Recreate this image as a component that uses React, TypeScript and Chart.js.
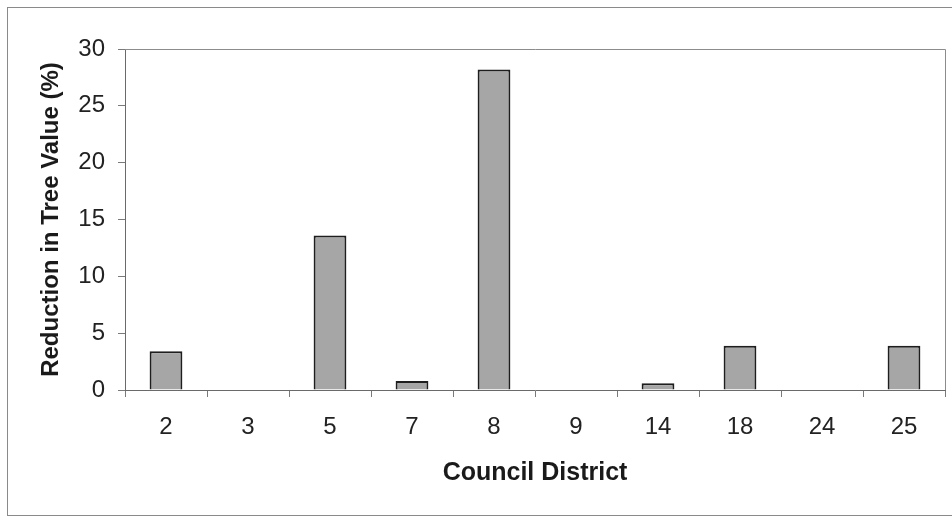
import React, { useEffect, useRef } from "react";
import { Chart, registerables } from "chart.js";

Chart.register(...registerables);

const districts = ["2", "3", "5", "7", "8", "9", "14", "18", "24", "25"];
const reductionPct = [3.4, 0, 13.6, 0.8, 28.2, 0, 0.6, 3.9, 0, 3.9];
const yTicks = { min: 0, max: 30, step: 5 };
const xTitle = "Council District";
const yTitle = "Reduction in Tree Value (%)";

const FONT = "'Liberation Sans', Arial, Helvetica, sans-serif";

const framePlugin = {
  id: "frame",
  beforeDraw(chart: any) {
    const { ctx, width, height } = chart;
    ctx.save();
    ctx.fillStyle = "#ffffff";
    ctx.fillRect(0, 0, width, height);
    ctx.strokeStyle = "#8a8a8a";
    ctx.lineWidth = 1;
    ctx.strokeRect(7.5, 7.5, width + 10, 508);
    ctx.restore();
  },
  afterDatasetsDraw(chart: any) {
    const { ctx, chartArea } = chart;
    ctx.save();
    ctx.strokeStyle = "#8c8c8c";
    ctx.lineWidth = 1;
    ctx.beginPath();
    ctx.moveTo(chartArea.left, Math.round(chartArea.top) + 0.5);
    ctx.lineTo(Math.round(chartArea.right) + 0.5, Math.round(chartArea.top) + 0.5);
    ctx.lineTo(Math.round(chartArea.right) + 0.5, chartArea.bottom);
    ctx.stroke();
    ctx.restore();
  },
};

export default function App() {
  const ref = useRef<HTMLCanvasElement | null>(null);
  useEffect(() => {
    if (!ref.current) return;
    const chart = new Chart(ref.current, {
      type: "bar",
      data: {
        labels: districts,
        datasets: [
          {
            data: reductionPct,
            backgroundColor: "#a6a6a6",
            borderColor: "#1e1e1e",
            borderWidth: 2,
            borderSkipped: "bottom",
            barPercentage: 0.4,
            categoryPercentage: 1,
          },
        ],
      },
      plugins: [framePlugin],
      options: {
        animation: false,
        responsive: false,
        devicePixelRatio: 1,
        events: [],
        layout: { padding: { left: 0, right: 7, top: 49, bottom: 0 } },
        plugins: {
          legend: { display: false },
          tooltip: { enabled: false },
          title: { display: false },
        },
        scales: {
          x: {
            afterFit: (s: any) => {
              s.height = 128;
            },
            grid: {
              offset: true,
              drawOnChartArea: false,
              drawTicks: true,
              tickLength: 7,
              tickColor: "#7a7a7a",
            },
            border: { display: true, color: "#6a6a6a", width: 1 },
            ticks: {
              padding: 16,
              color: "#222222",
              font: { family: FONT, size: 24, lineHeight: 1.2 },
              maxRotation: 0,
              autoSkip: false,
            },
            title: {
              display: true,
              text: xTitle,
              color: "#1a1a1a",
              font: { family: FONT, size: 25, weight: "bold", lineHeight: 1.2 },
              padding: { top: 0, bottom: 30 },
            },
          },
          y: {
            min: yTicks.min,
            max: yTicks.max,
            afterFit: (s: any) => {
              s.width = 125;
            },
            grid: {
              drawOnChartArea: false,
              drawTicks: true,
              tickLength: 7,
              tickColor: "#7a7a7a",
            },
            border: { display: true, color: "#6a6a6a", width: 1 },
            ticks: {
              stepSize: yTicks.step,
              padding: 13,
              color: "#222222",
              font: { family: FONT, size: 24, lineHeight: 1.2 },
            },
            title: {
              display: true,
              text: yTitle,
              color: "#1a1a1a",
              font: { family: FONT, size: 24, weight: "bold", lineHeight: 1.2 },
              padding: { top: 37, bottom: 0 },
            },
          },
        },
      },
    });
    return () => chart.destroy();
  }, []);
  return (
    <div
      style={{
        position: "fixed",
        left: 0,
        top: 0,
        width: 952,
        height: 518,
        background: "#ffffff",
      }}
    >
      <canvas ref={ref} width={952} height={518} style={{ display: "block" }} />
    </div>
  );
}
